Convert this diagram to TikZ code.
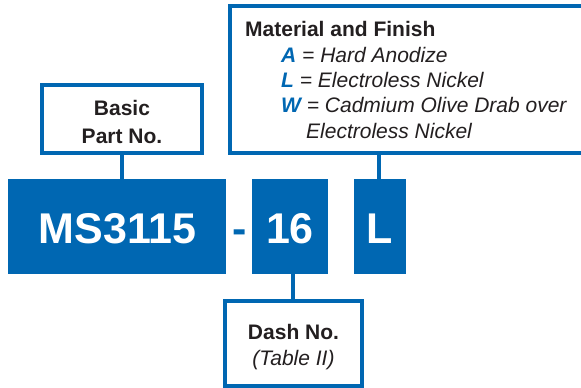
\documentclass[tikz,border=0pt]{standalone}
\usepackage{fontspec}
\setmainfont{Liberation Sans}
\definecolor{mblue}{RGB}{0,103,178}
\definecolor{mtext}{RGB}{35,31,32}
\begin{document}
\begin{tikzpicture}[x=1pt,y=-1pt,
  outbox/.style={draw=mblue,line width=4pt,fill=white,inner sep=0pt,minimum width=#1},
  partbox/.style={fill=mblue,inner sep=0pt,minimum height=95pt,minimum width=#1},
  conn/.style={draw=mblue,line width=4pt},
  lbl/.style={anchor=base,inner sep=0pt,text=mtext,font=\fontsize{21}{25}\selectfont\bfseries},
  itl/.style={anchor=base west,inner sep=0pt,text=mtext,font=\fontsize{21}{25}\selectfont\itshape},
  big/.style={anchor=base,inner sep=0pt,text=white,font=\fontsize{43}{50}\selectfont\bfseries},
  key/.style={text=mblue,font=\bfseries\itshape}]
\useasboundingbox (0,0) rectangle (581,388);
% part boxes
\node[partbox=218pt] (ms) at (117,226.5) {};
\node[partbox=76pt] (dn) at (290,226.5) {};
\node[partbox=52pt] (fn) at (380,226.5) {};
\node[big] (mst) at (117.5,243) {MS3115};
\node[big] (dnt) at (290,243) {16};
\node[big] (fnt) at (380,243) {L};
\node[big,text=mblue] (dash) at (239.5,243) {-};
% callout boxes
\node[outbox=160pt,minimum height=68pt] (basic) at (122,119) {};
\node[outbox=380pt,minimum height=147pt] (mat) at (420,79.5) {};
\node[outbox=137pt,minimum height=85pt] (dashno) at (293.5,343.5) {};
% connectors
\draw[conn] (basic.south) -- (basic.south |- ms.north);
\draw[conn] (ms.north -| 379,0) coordinate (mc) -- (mc |- mat.south);
\draw[conn] (dashno.north -| 293,0) coordinate (dc) -- (dc |- dn.south);
% labels
\node[lbl] (b1) at (122,115) {Basic};
\node[lbl] (b2) at (122,143) {Part No.};
\node[lbl,anchor=base west] (m0) at (245,36) {Material and Finish};
\node[itl] (m1) at (281,62) {{\color{mblue}\bfseries A} = Hard Anodize};
\node[itl] (m2) at (281,87) {{\color{mblue}\bfseries L} = Electroless Nickel};
\node[itl] (m3) at (281,112) {{\color{mblue}\bfseries W} = Cadmium Olive Drab over};
\node[itl] (m4) at (306,138) {Electroless Nickel};
\node[lbl] (d1) at (293.5,339) {Dash No.};
\node[lbl,font=\fontsize{21}{25}\selectfont\itshape] (d2) at (293.5,365) {(Table II)};
\end{tikzpicture}
\end{document}
